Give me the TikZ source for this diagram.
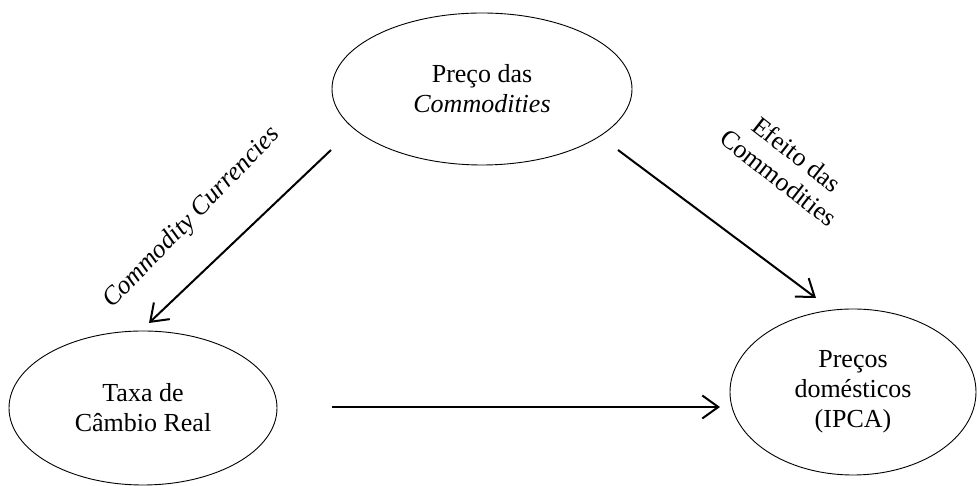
\documentclass[tikz,border=0pt]{standalone}
\usepackage{fontspec}
\setmainfont{Liberation Serif}
\usetikzlibrary{shapes.geometric,arrows.meta}
\begin{document}
\begin{tikzpicture}[x=1pt,y=1pt,
  ell/.style={draw, ellipse, line width=0.9pt, inner sep=0pt, align=center,
    font=\fontsize{26}{30}\selectfont},
  arr/.style={line width=2pt, -{Straight Barb[length=16pt,width=23pt]}},
  lbl/.style={font=\fontsize{26}{30}\selectfont, align=center, inner sep=0pt}]
\useasboundingbox (0,0) rectangle (978,486);
\node[ell, minimum width=300pt, minimum height=152pt] (top) at (482,397) {Preço das\\\textit{Commodities}};
\node[ell, minimum width=268pt, minimum height=154pt] (left) at (143,78) {Taxa de\\Câmbio Real};
\node[ell, minimum width=246pt, minimum height=166pt] (right) at (853,94) {Preços\\domésticos\\(IPCA)};
\draw[arr] ([shift={(-151pt,-61pt)}]top.center) -- ([shift={(6pt,85pt)}]left.center);
\draw[arr] ([shift={(136pt,-61pt)}]top.center) -- ([shift={(-37pt,94pt)}]right.center);
\draw[arr] ([shift={(189pt,1pt)}]left.center) -- ([shift={(-133pt,-15pt)}]right.center);
\node[lbl, rotate=46] (cc) at (192,268) {\textit{Commodity Currencies}};
\node[lbl, rotate=-38] (ef) at (788,320) {Efeito das\\Commodities};
\end{tikzpicture}
\end{document}
